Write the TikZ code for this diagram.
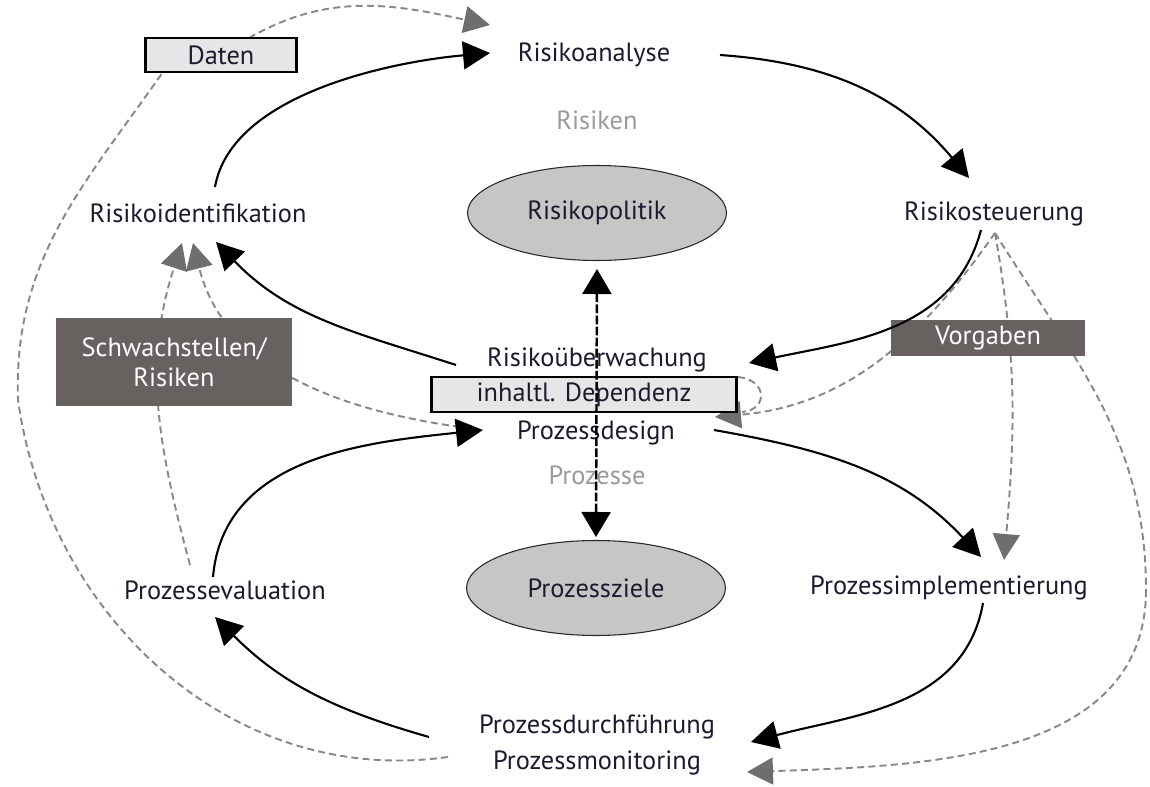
\documentclass[tikz,border=0pt]{standalone}
\usepackage{fontspec}
\setmainfont{PT Sans}
\usetikzlibrary{arrows.meta,shapes.geometric,calc}
\pgfdeclarelayer{background}
\pgfsetlayers{background,main}

\definecolor{ink}{HTML}{1B1B30}
\definecolor{dashgray}{HTML}{888888}
\definecolor{headgray}{HTML}{6E6E6E}
\definecolor{boxdark}{HTML}{67625F}
\definecolor{boxlight}{HTML}{E6E6E6}
\definecolor{ellfill}{HTML}{C8C6C4}
\definecolor{softtext}{HTML}{9A9A9A}

\tikzset{
  lbl/.style={font=\fontsize{15}{20}\selectfont, text=ink, inner sep=2pt},
  soft/.style={lbl, text=softtext},
  goal/.style={ellipse, draw=black!85, line width=0.6pt, fill=ellfill,
    minimum width=5.18cm, minimum height=1.9cm, inner sep=0pt,
    font=\fontsize{15}{20}\selectfont, text=ink},
  lightbox/.style={draw=black, line width=1.7pt, fill=boxlight, inner sep=0pt,
    font=\fontsize{15}{20}\selectfont, text=ink},
  darkbox/.style={fill=boxdark, inner sep=0pt, align=center,
    font=\fontsize{15}{17}\selectfont, text=white},
  flow/.style={black, line width=1.2pt, -{Triangle[length=0.54cm,width=0.56cm]}},
  hintline/.style={dashgray, line width=1.1pt, dash pattern=on 4pt off 2.4pt},
  hint/.style={hintline, -{Triangle[length=0.52cm,width=0.54cm,color=headgray]}},
  link/.style={black, line width=1.4pt, dash pattern=on 5pt off 1.3pt,
    {Triangle[length=0.5cm,width=0.58cm]}-{Triangle[length=0.5cm,width=0.58cm]}},
}

\begin{document}
\begin{tikzpicture}[x=0.02cm,y=0.02cm]
\useasboundingbox (0,0) rectangle (1150,-787);

% risk side
\node[lbl] (ra) at (594,-55) {Risikoanalyse};
\node[soft] (rk) at (597,-120) {Risiken};
\node[goal] (rp) at (597,-213) {Risikopolitik};
\node[lbl] (ri) at (198,-213) {Risikoidentifikation};
\node[lbl] (rs) at (994,-214) {Risikosteuerung};
\node[lightbox, minimum width=3.04cm, minimum height=0.68cm] (dt) at (221,-55) {Daten};
\node[darkbox, minimum width=4.74cm, minimum height=1.76cm] (sw) at (174,-362) {Schwachstellen/\\Risiken};
\node[darkbox, minimum width=3.9cm, minimum height=0.74cm] (vg) at (988,-338) {Vorgaben};

% centre
\node[lbl] (ru) at (597,-360) {Risikoüberwachung};
\node[lightbox, minimum width=6.12cm, minimum height=0.7cm] (dep) at (584,-394.5) {inhaltl. Dependenz};
\node[lbl] (pd) at (596,-433) {Prozessdesign};
\node[soft] (pk) at (597,-475) {Prozesse};

% process side
\node[goal] (pz) at (596,-588) {Prozessziele};
\node[lbl] (pe) at (225,-590) {Prozessevaluation};
\node[lbl] (pi) at (949,-588) {Prozessimplementierung};
\node[lbl, align=center] (pm) at (597,-745) {Prozessdurchführung\\Prozessmonitoring};

\coordinate (fan) at ($(rs)+(1,-19)$);

\begin{pgfonlayer}{background}
  % data feedback loop
  \draw[hintline] ($(pm)+(-149,-12)$) to[out=188,in=-82] (18,-400)
      to[out=92,in=-125] ($(dt)+(-58,-17)$);
  \draw[hint] ($(dt)+(28,17)$) to[out=30,in=168] ($(ra)+(-104,30)$);
  % weak points / risks
  \draw[hint] ($(pe)+(-35,25)$) to[out=105,in=-108] ($(ri)+(-16,-30)$);
  \draw[hint] ($(pd)+(-136,6)$) to[out=172,in=-76] ($(ri)+(-5,-30)$);
  % requirements fan
  \draw[hint] (fan) to[out=-125,in=5] ($(dep)+(131,-22.5)$);
  \draw[hintline] ($(dep)+(154,17.5)$) .. controls ($(dep)+(184,14.5)$) and ($(dep)+(184,-15.5)$) .. ($(dep)+(158,-17.5)$);
  \draw[hint] (fan) to[out=-80,in=85] ($(pi)+(55,28)$);
  \draw[hintline] (fan) to[out=-58,in=90] (1146,-590);
  \draw[hint] (1146,-590) to[out=-90,in=2] ($(pm)+(150,-27)$);
\end{pgfonlayer}

% main cycle
\draw[flow] ($(ri)+(17,26)$) to[out=80,in=185,looseness=0.8] ($(ra)+(-104,2)$);
\draw[flow] ($(ra)+(126,0)$) to[out=-4,in=130] ($(rs)+(-25,36)$);
\draw[flow] ($(rs)+(-13,-16)$) to[out=-105,in=12] ($(ru)+(152,-3)$);
\draw[flow] ($(ru)+(-141,-5)$) to[out=162,in=-46] ($(ri)+(18,-29)$);
\draw[flow] ($(pe)+(-12,13)$) to[out=85,in=186] ($(pd)+(-113,3)$);
\draw[flow] ($(pd)+(118,3)$) to[out=-10,in=133] ($(pi)+(32,31)$);
\draw[flow] ($(pi)+(34,-15)$) to[out=-100,in=15] ($(pm)+(154,3)$);
\draw[flow] ($(pm)+(-168,8)$) to[out=164,in=-45] ($(pe)+(-10,-27)$);

% link between policy and goals
\draw[link] ($(rp.south)+(0,-8)$) -- ($(pz.north)+(0,3)$);
\end{tikzpicture}
\end{document}
